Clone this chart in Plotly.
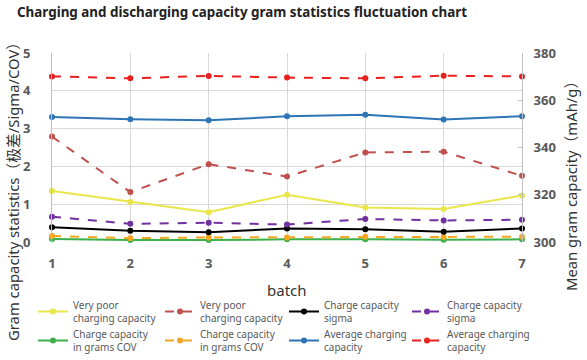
import plotly.graph_objects as go

batches = [1, 2, 3, 4, 5, 6, 7]

# left axis series (gram capacity statistics)
very_poor_a = [1.35, 1.06, 0.79, 1.25, 0.91, 0.87, 1.23]
very_poor_b = [2.79, 1.32, 2.06, 1.73, 2.37, 2.39, 1.75]
sigma_a = [0.39, 0.30, 0.26, 0.36, 0.34, 0.27, 0.36]
sigma_b = [0.67, 0.48, 0.51, 0.46, 0.61, 0.57, 0.59]
cov_a = [0.08, 0.05, 0.05, 0.07, 0.07, 0.06, 0.07]
cov_b = [0.16, 0.10, 0.12, 0.12, 0.14, 0.13, 0.14]
# right axis series (mean gram capacity, mAh/g)
avg_a = [352.9, 352.0, 351.5, 353.2, 353.9, 351.9, 353.2]
avg_b = [370.1, 369.3, 370.3, 369.6, 369.3, 370.4, 370.1]

names = {
    "vp": "Very poor<br>charging capacity",
    "sg": "Charge capacity<br>sigma",
    "cv": "Charge capacity<br>in grams COV",
    "av": "Average charging<br>capacity",
}

fig = go.Figure()

def add(y, name, color, dash, legend, axis="y"):
    fig.add_trace(go.Scatter(
        x=batches, y=y, name=name, mode="lines+markers",
        line=dict(color=color, width=2, dash=dash),
        marker=dict(color=color, size=6),
        cliponaxis=False, yaxis=axis, legend=legend,
    ))

# legend columns (each column: row1, row2)
add(very_poor_a, names["vp"], "#E8E64A", "solid", "legend")
add(cov_a, names["cv"], "#3CB04A", "solid", "legend")
add(very_poor_b, names["vp"], "#C0504D", "dash", "legend2")
add(cov_b, names["cv"], "#F5A623", "dash", "legend2")
add(sigma_a, names["sg"], "#000000", "solid", "legend3")
add(avg_a, names["av"], "#2E75B6", "solid", "legend3", "y2")
add(sigma_b, names["sg"], "#7030A0", "dash", "legend4")
add(avg_b, names["av"], "#E8201E", "dash", "legend4", "y2")

tickfont = dict(family="Noto Sans", size=13, color="#595959", weight="bold")

L, R, T, B = 52, 522, 53, 242
PW, PH = R - L, B - T
W, H = 587, 360

def leg(xpx):
    return dict(
        orientation="v", x=xpx / W, xref="container", y=0, yref="container",
        xanchor="left", yanchor="bottom", tracegroupgap=0,
        font=dict(family="Noto Sans", size=10, color="#595959"),
        itemwidth=30, bgcolor="rgba(0,0,0,0)",
    )

fig.update_layout(
    width=W, height=H,
    margin=dict(l=L, r=W - R, t=T, b=H - B, autoexpand=False),
    paper_bgcolor="white", plot_bgcolor="white",
    title=dict(
        text="<b>Charging and discharging capacity gram statistics fluctuation chart</b>",
        font=dict(family="Noto Sans", size=13.4, color="#222222"),
        x=17 / W, xref="container", xanchor="left",
        y=1 - 12 / H, yref="container", yanchor="middle",
        pad=dict(l=0, r=0, t=0, b=0),
    ),
    xaxis=dict(
        range=[1, 7], dtick=1, tickfont=tickfont,
        showgrid=True, gridcolor="#D9D9D9", gridwidth=1,
        zeroline=False, showline=False, ticks="", ticklabelstandoff=12,
    ),
    yaxis=dict(
        range=[0, 5], dtick=1, tickfont=tickfont,
        showgrid=True, gridcolor="#D9D9D9", gridwidth=1,
        zeroline=False, showline=True, linecolor="#BFBFBF", ticks="",
        ticklabelstandoff=18,
    ),
    yaxis2=dict(
        range=[300, 380], dtick=20, tickfont=tickfont, overlaying="y",
        side="right", showgrid=False, zeroline=False, showline=True,
        linecolor="#BFBFBF", ticks="inside", ticklen=4, tickcolor="#BFBFBF",
        ticklabelstandoff=8,
    ),
    legend=leg(33),
    legend2=leg(160),
    legend3=leg(284),
    legend4=leg(407),
    showlegend=True,
    annotations=[
        dict(text="batch", xref="paper", yref="paper", x=(287 - L) / PW,
             y=(B - 290) / PH, showarrow=False, xanchor="center", yanchor="middle",
             font=dict(family="Noto Sans", size=15, color="#333333")),
        dict(text="Gram capacity statistics（极差/Sigma/COV）", xref="paper", yref="paper",
             x=(13 - L) / PW, y=(B - 188) / PH, showarrow=False, textangle=-90,
             xanchor="center", yanchor="middle",
             font=dict(family="Noto Sans, Noto Sans CJK SC", size=14.8, color="#333333")),
        dict(text="Mean gram capacity（mAh/g）", xref="paper", yref="paper",
             x=(571 - L) / PW, y=(B - 183) / PH, showarrow=False, textangle=-90,
             xanchor="center", yanchor="middle",
             font=dict(family="Noto Sans, Noto Sans CJK SC", size=14.8, color="#333333")),
    ],
)

fig.write_html("out.html", config={"displayModeBar": False},
               post_script="document.body.style.margin='0';")
